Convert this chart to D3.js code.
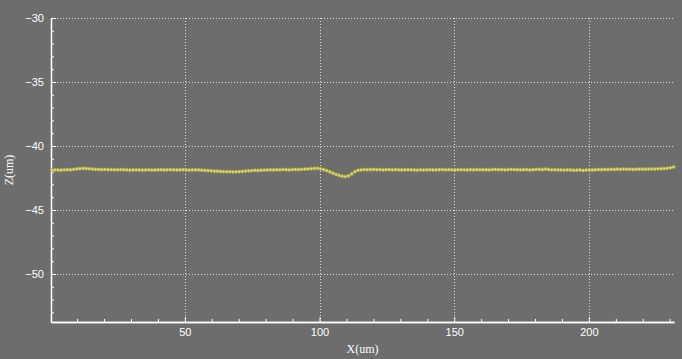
<!DOCTYPE html>
<html>
<head>
<meta charset="utf-8">
<script src="https://cdn.jsdelivr.net/npm/d3@7"></script>
<style>
  html, body { margin: 0; padding: 0; background: #6d6d6d; }
  svg { display: block; }
  .tick text { fill: #ffffff; font-family: "Liberation Sans", Arial, sans-serif; font-size: 11px; }
  .domain, .tick line { stroke: #ffffff; }
</style>
</head>
<body>
<div id="chart"></div>
<script>
// sample grid of the profile (um)
const xStart = 0.6;
const xStep = 1.16;

// Z values (um), one per sample
const zValues = [
  -41.87,-41.86,-41.87,-41.88,-41.86,-41.85,-41.86,-41.82,-41.79,-41.77,
  -41.75,-41.76,-41.78,-41.80,-41.82,-41.83,-41.84,-41.83,-41.85,-41.84,
  -41.85,-41.86,-41.84,-41.85,-41.86,-41.88,-41.87,-41.86,-41.87,-41.88,
  -41.87,-41.86,-41.88,-41.87,-41.86,-41.85,-41.87,-41.86,-41.85,-41.86,
  -41.87,-41.86,-41.85,-41.86,-41.88,-41.87,-41.86,-41.87,-41.89,-41.90,
  -41.92,-41.94,-41.96,-41.97,-41.99,-42.00,-42.01,-42.00,-42.02,-42.01,
  -42.00,-41.98,-41.96,-41.94,-41.92,-41.90,-41.91,-41.89,-41.88,-41.87,
  -41.86,-41.87,-41.85,-41.86,-41.84,-41.85,-41.86,-41.84,-41.83,-41.84,
  -41.82,-41.80,-41.79,-41.77,-41.75,-41.74,-41.78,-41.84,-41.92,-42.02,
  -42.12,-42.22,-42.30,-42.36,-42.39,-42.33,-42.18,-42.00,-41.90,-41.86,
  -41.84,-41.85,-41.84,-41.83,-41.85,-41.84,-41.86,-41.85,-41.84,-41.86,
  -41.85,-41.86,-41.87,-41.86,-41.85,-41.86,-41.87,-41.88,-41.86,-41.87,
  -41.86,-41.85,-41.87,-41.86,-41.85,-41.84,-41.86,-41.85,-41.86,-41.87,
  -41.86,-41.85,-41.86,-41.87,-41.85,-41.86,-41.84,-41.85,-41.86,-41.85,
  -41.86,-41.84,-41.83,-41.85,-41.84,-41.86,-41.85,-41.83,-41.84,-41.85,
  -41.86,-41.85,-41.84,-41.86,-41.85,-41.83,-41.82,-41.84,-41.80,-41.83,
  -41.86,-41.85,-41.87,-41.86,-41.88,-41.86,-41.87,-41.89,-41.88,-41.87,
  -41.90,-41.88,-41.86,-41.87,-41.85,-41.84,-41.85,-41.83,-41.84,-41.82,
  -41.83,-41.81,-41.82,-41.80,-41.82,-41.81,-41.83,-41.82,-41.81,-41.80,
  -41.81,-41.80,-41.79,-41.80,-41.78,-41.77,-41.76,-41.74,-41.70,-41.64
];

// axis ticks
const xMajorTicks = [50, 100, 150, 200];
const xMinorTicks = [10, 20, 30, 40, 60, 70, 80, 90, 110, 120, 130, 140, 160, 170, 180, 190, 210, 220, 230];
const yMajorTicks = [-30, -35, -40, -45, -50];
const yMinorTicks = [-31, -32, -33, -34, -36, -37, -38, -39, -41, -42, -43, -44, -46, -47, -48, -49, -51, -52, -53];

const xDomain = [0.3, 231.6];
const yDomain = [-53.75, -30];

const data = zValues.map((z, i) => ({ x: xStart + i * xStep, z: z }));

// set the dimensions and margins of the graph
const W = 682, H = 359;
const margin = { top: 18, right: 8, bottom: 37, left: 51 };

const svg = d3.select("#chart")
  .append("svg")
  .attr("width", W)
  .attr("height", H);

svg.append("rect").attr("width", W).attr("height", H).attr("fill", "#6d6d6d");

const x = d3.scaleLinear().domain(xDomain).range([margin.left, W - margin.right]);
const y = d3.scaleLinear().domain(yDomain).range([H - margin.bottom, margin.top]);

// dotted grid at the major ticks
const grid = svg.append("g")
  .attr("stroke", "#dcdcdc")
  .attr("stroke-width", 1)
  .attr("stroke-dasharray", "1,2");
grid.selectAll(".gx")
  .data(xMajorTicks)
  .join("line")
  .attr("x1", d => Math.round(x(d)) + 0.5)
  .attr("x2", d => Math.round(x(d)) + 0.5)
  .attr("y1", y.range()[0])
  .attr("y2", y.range()[1]);
grid.selectAll(".gy")
  .data(yMajorTicks)
  .join("line")
  .attr("y1", d => Math.round(y(d)) + 0.5)
  .attr("y2", d => Math.round(y(d)) + 0.5)
  .attr("x1", x.range()[0])
  .attr("x2", x.range()[1]);

// X axis
svg.append("g")
  .attr("transform", `translate(0,${y.range()[0]})`)
  .call(d3.axisBottom(x).tickValues(xMinorTicks).tickFormat("").tickSize(-3).tickSizeOuter(0));
svg.append("g")
  .attr("transform", `translate(0,${y.range()[0]})`)
  .call(d3.axisBottom(x).tickValues(xMajorTicks).tickSize(-5).tickSizeOuter(0).tickPadding(6));

// Y axis
svg.append("g")
  .attr("transform", `translate(${x.range()[0]},0)`)
  .call(d3.axisLeft(y).tickValues(yMinorTicks).tickFormat("").tickSize(-3).tickSizeOuter(0));
svg.append("g")
  .attr("transform", `translate(${x.range()[0]},0)`)
  .call(d3.axisLeft(y).tickValues(yMajorTicks).tickSize(-5).tickSizeOuter(0).tickPadding(7));

svg.selectAll(".domain").attr("stroke-width", 1.3);

// profile line
svg.append("path")
  .datum(data)
  .attr("fill", "none")
  .attr("stroke", "#bcbc50")
  .attr("stroke-width", 1)
  .attr("d", d3.line().x(d => x(d.x)).y(d => y(d.z)));

// markers
svg.append("g")
  .selectAll("circle")
  .data(data)
  .join("circle")
  .attr("cx", d => x(d.x))
  .attr("cy", d => y(d.z))
  .attr("r", 1.6)
  .attr("fill", "#dede76")
  .attr("stroke", "#a6a63c")
  .attr("stroke-width", 0.7);

// axis titles
svg.append("text")
  .attr("x", (x.range()[0] + x.range()[1]) / 2)
  .attr("y", 353)
  .attr("text-anchor", "middle")
  .attr("fill", "#ffffff")
  .style("font-family", "'Liberation Serif', 'DejaVu Serif', serif")
  .style("font-size", "12px")
  .text("X(um)");

svg.append("text")
  .attr("transform", `translate(13,${(y.range()[0] + y.range()[1]) / 2}) rotate(-90)`)
  .attr("text-anchor", "middle")
  .attr("fill", "#ffffff")
  .style("font-family", "'Liberation Serif', 'DejaVu Serif', serif")
  .style("font-size", "12px")
  .text("Z(um)");
</script>
</body>
</html>
